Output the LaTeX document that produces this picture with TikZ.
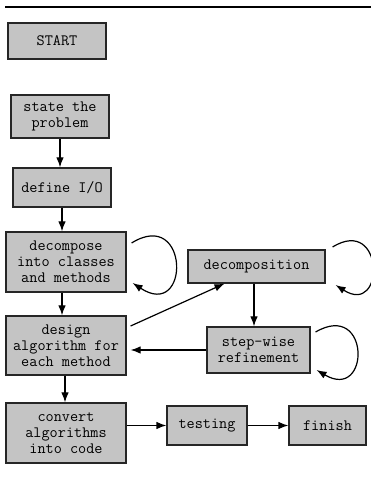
\documentclass[tikz,border=0pt]{standalone}
\usepackage{tikz}
\usetikzlibrary{positioning,arrows.meta}
\definecolor{boxgray}{RGB}{196,196,196}

\begin{document}
\begin{tikzpicture}[x=1pt,y=1pt]
\tikzstyle{box}=[draw=black!85, fill=boxgray, line width=1.2pt, inner sep=0pt, align=center,
  font=\fontsize{15.8}{15.8}\selectfont\ttfamily]
\tikzstyle{arr}=[line width=1.2pt, -{Latex[length=10pt,width=7.5pt]}]
\useasboundingbox (0,0) rectangle (371,484);
\draw [line width=1.6pt] (5,477) -- (371,477);
\node (start) [box, minimum width=98, minimum height=36] at (57,443) {START};
\node (state) [box, minimum width=98, minimum height=43] at (60,367.5) {state the\\problem};
\node (defio) [box, minimum width=98, minimum height=39] at (62,296.5) {define I/O};
\node (decomp) [box, minimum width=120, minimum height=60] at (66,222) {decompose\\into classes\\and methods};
\node (design) [box, minimum width=120, minimum height=59] at (66,138.5) {design\\algorithm for\\each method};
\node (convert) [box, minimum width=120, minimum height=60] at (66,51) {convert\\algorithms\\into code};
\node (decomposition) [box, minimum width=137, minimum height=33] at (256.5,217.5) {decomposition};
\node (stepwise) [box, minimum width=103, minimum height=46] at (258.5,134) {step-wise\\refinement};
\node (testing) [box, minimum width=80, minimum height=39] at (207,58.5) {testing};
\node (finish) [box, minimum width=77, minimum height=39] at (327.5,58.5) {finish};
% main column
\draw [arr] (60,0 |- state.south) -- (60,0 |- defio.north);
\draw [arr] (62,0 |- defio.south) -- (62,0 |- decomp.north);
\draw [arr] (62,0 |- decomp.south) -- (62,0 |- design.north);
\draw [arr] (65,0 |- design.south) -- (65,0 |- convert.north);
\draw [arr] (convert.east |- testing.west) -- (testing.west);
\draw [arr] (testing.east) -- (finish.west);
% side branch
\draw [arr] ([xshift=4,yshift=19.5]design.east) -- ([xshift=-32]decomposition.south);
\draw [arr] ([xshift=-2.5]decomposition.south) -- ([xshift=-2.5]decomposition.south |- stepwise.north);
\draw [arr, shorten >=4pt] (stepwise.west) -- (stepwise.west -| design.east);
% loops
\draw [arr] ([xshift=5,yshift=19]decomp.east) .. controls +(58,36) and +(58,-38) .. ([xshift=6,yshift=-21]decomp.east);
\draw [arr] ([xshift=7,yshift=19.5]decomposition.east) .. controls +(52,32) and +(50,-32) .. ([xshift=10,yshift=-18.5]decomposition.east);
\draw [arr] ([xshift=5,yshift=18]stepwise.east) .. controls +(55,32) and +(54,-32) .. ([xshift=6,yshift=-20]stepwise.east);
\end{tikzpicture}
\end{document}
